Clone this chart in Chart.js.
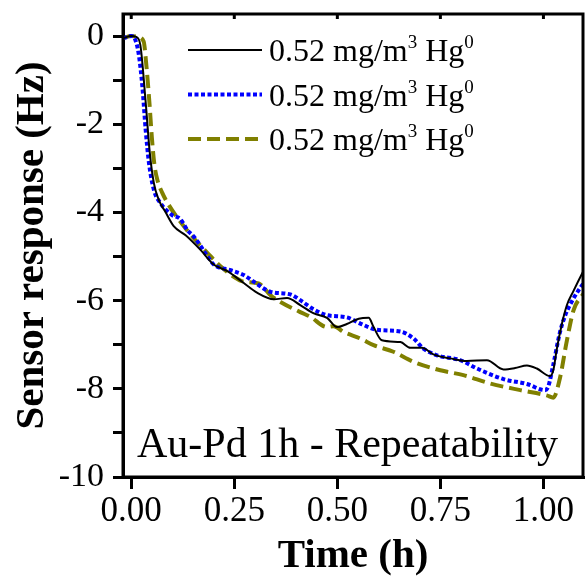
<!DOCTYPE html>
<html>
<head>
<meta charset="utf-8">
<script src="https://cdn.jsdelivr.net/npm/chart.js@4.4.1/dist/chart.umd.min.js"></script>
<style>
  html, body { margin: 0; padding: 0; background: #fff; }
</style>
</head>
<body>
<canvas id="chart" width="585" height="580"></canvas>
<script>
// ---- data ----
const SERIES_LABEL = '0.52 mg/m³ Hg⁰';
const ANNOTATION = 'Au-Pd 1h - Repeatability';

const xTickValues = [0, 0.25, 0.5, 0.75, 1.0];
const yTickValues = [-10, -9, -8, -7, -6, -5, -4, -3, -2, -1, 0];

// run 1 (black, solid)
const timeRun1 = [-0.02, 0.0, 0.012, 0.022, 0.035, 0.045, 0.055, 0.067, 0.083, 0.103, 0.132, 0.168, 0.2,
  0.233, 0.273, 0.305, 0.346, 0.378, 0.41, 0.443, 0.475, 0.499, 0.523, 0.552, 0.576, 0.588, 0.608,
  0.653, 0.677, 0.705, 0.733, 0.774, 0.814, 0.863, 0.903, 0.931, 0.96, 0.984, 1.016, 1.024, 1.032,
  1.045, 1.057, 1.073, 1.097, 1.11];
const respRun1 = [-0.05, 0.0, -0.02, -0.2, -1.5, -2.65, -3.34, -3.72, -3.99, -4.31, -4.52, -4.85, -5.18,
  -5.33, -5.6, -5.82, -5.97, -5.94, -6.1, -6.29, -6.39, -6.6, -6.53, -6.41, -6.39, -6.6, -6.9,
  -6.94, -7.07, -7.07, -7.22, -7.31, -7.37, -7.35, -7.56, -7.53, -7.47, -7.54, -7.71, -7.58, -7.12,
  -6.52, -6.1, -5.78, -5.33, -5.1];

// run 2 (blue, dotted)
const timeRun2 = [-0.02, 0.0, 0.008, 0.018, 0.027, 0.035, 0.043, 0.055, 0.071, 0.099, 0.119, 0.136, 0.152,
  0.184, 0.2, 0.241, 0.273, 0.297, 0.338, 0.386, 0.41, 0.443, 0.475, 0.523, 0.556, 0.596, 0.653,
  0.685, 0.709, 0.742, 0.798, 0.839, 0.903, 0.96, 1.004, 1.012, 1.024, 1.04, 1.053, 1.073, 1.097, 1.11];
const respRun2 = [-0.05, 0.0, -0.05, -0.4, -1.15, -2.13, -2.88, -3.49, -3.79, -4.06, -4.15, -4.4, -4.55,
  -4.98, -5.18, -5.31, -5.42, -5.57, -5.8, -5.86, -5.99, -6.2, -6.33, -6.38, -6.52, -6.66, -6.7,
  -6.86, -7.09, -7.24, -7.35, -7.54, -7.78, -7.89, -8.03, -7.94, -7.45, -6.72, -6.33, -5.95, -5.61, -5.45];

// run 3 (olive, dashed)
const timeRun3 = [-0.02, 0.0, 0.015, 0.03, 0.037, 0.044, 0.05, 0.056, 0.063, 0.075, 0.091, 0.124, 0.156,
  0.188, 0.22, 0.249, 0.273, 0.309, 0.338, 0.362, 0.41, 0.435, 0.475, 0.491, 0.515, 0.556, 0.588,
  0.636, 0.685, 0.75, 0.806, 0.871, 0.944, 1.008, 1.024, 1.04, 1.057, 1.073, 1.097, 1.11];
const respRun3 = [-0.05, 0.0, -0.02, -0.12, -0.7, -1.5, -2.3, -2.9, -3.25, -3.55, -3.83, -4.27, -4.63,
  -4.95, -5.25, -5.46, -5.57, -5.61, -5.88, -6.03, -6.26, -6.37, -6.6, -6.58, -6.71, -6.86, -7.01,
  -7.16, -7.39, -7.58, -7.69, -7.88, -8.03, -8.15, -8.2, -7.76, -6.9, -6.22, -5.85, -5.7];

const SERIF = "'Liberation Serif', 'Times New Roman', serif";

function toPoints(xs, ys) {
  return xs.map((x, i) => ({ x, y: ys[i] }));
}

const runs = [
  { t: timeRun1, r: respRun1, color: '#000000', width: 2, dash: [] },
  { t: timeRun2, r: respRun2, color: '#0000ff', width: 4, dash: [4, 2.5] },
  { t: timeRun3, r: respRun3, color: '#808000', width: 4, dash: [13, 6] },
];

// ---- frame, top ticks, legend, annotation ----
const decorPlugin = {
  id: 'decor',
  afterDraw(chart) {
    const { ctx, chartArea: a, scales } = chart;
    ctx.save();
    ctx.strokeStyle = '#000';
    ctx.lineWidth = 3;
    ctx.strokeRect(a.left, a.top, a.right - a.left, a.bottom - a.top);

    // small inward ticks on the top edge
    xTickValues.forEach(v => {
      const px = scales.x.getPixelForValue(v);
      ctx.beginPath();
      ctx.moveTo(px, a.top);
      ctx.lineTo(px, a.top + 5);
      ctx.stroke();
    });

    // legend
    const rows = [50, 94.5, 139];
    runs.forEach((run, i) => {
      const y = rows[i];
      ctx.beginPath();
      ctx.strokeStyle = run.color;
      ctx.lineWidth = run.width;
      ctx.setLineDash(run.dash);
      ctx.moveTo(188, y);
      ctx.lineTo(262, y);
      ctx.stroke();
      ctx.setLineDash([]);

      ctx.fillStyle = '#000';
      ctx.textBaseline = 'alphabetic';
      ctx.textAlign = 'left';
      let x = 269;
      const base = y + 11;
      const parts = [['0.52 mg/m', 32, 0], ['3', 19, -13], [' Hg', 32, 0], ['0', 19, -13]];
      parts.forEach(([txt, size, dy]) => {
        ctx.font = size + 'px ' + SERIF;
        ctx.fillText(txt, x, base + dy);
        x += ctx.measureText(txt).width;
      });
    });

    // annotation
    ctx.fillStyle = '#000';
    ctx.font = '42px ' + SERIF;
    ctx.textAlign = 'left';
    ctx.textBaseline = 'alphabetic';
    ctx.fillText(ANNOTATION, 137, 457);
    ctx.restore();
  }
};

new Chart(document.getElementById('chart'), {
  type: 'line',
  data: {
    datasets: runs.map(run => ({
      label: SERIES_LABEL,
      data: toPoints(run.t, run.r),
      borderColor: run.color,
      borderWidth: run.width,
      borderDash: run.dash,
      pointRadius: 0,
      fill: false,
      cubicInterpolationMode: 'monotone',
    }))
  },
  options: {
    responsive: false,
    animation: false,
    devicePixelRatio: 1,
    layout: { padding: { top: 14, right: 2, left: 0, bottom: 0 } },
    plugins: { legend: { display: false }, tooltip: { enabled: false } },
    scales: {
      x: {
        type: 'linear',
        min: -0.02,
        max: 1.096,
        afterBuildTicks: s => { s.ticks = xTickValues.map(v => ({ value: v })); },
        afterFit: s => { s.height = 103; s.paddingLeft = 0; s.paddingRight = 0; },
        grid: { drawOnChartArea: false, color: '#000', lineWidth: 3, tickLength: 12 },
        border: { display: true, color: '#000', width: 3 },
        ticks: {
          color: '#000',
          font: { family: SERIF, size: 35 },
          padding: 2,
          maxRotation: 0,
          callback: v => v.toFixed(2)
        },
        title: {
          display: true,
          text: 'Time (h)',
          color: '#000',
          font: { family: SERIF, size: 41, weight: 'bold', lineHeight: 1 },
          padding: { top: 0, bottom: 3 }
        }
      },
      y: {
        type: 'linear',
        min: -10,
        max: 0.5,
        afterBuildTicks: s => { s.ticks = yTickValues.map(v => ({ value: v })); },
        afterFit: s => { s.width = 123; s.paddingTop = 0; s.paddingBottom = 0; },
        grid: { drawOnChartArea: false, color: '#000', lineWidth: 3, tickLength: 10 },
        border: { display: true, color: '#000', width: 3 },
        ticks: {
          color: '#000',
          font: { family: SERIF, size: 34 },
          padding: 9,
          callback: v => (v % 2 === 0 ? String(v) : '')
        },
        title: {
          display: true,
          text: 'Sensor response (Hz)',
          color: '#000',
          font: { family: SERIF, size: 41, weight: 'bold', lineHeight: 1 },
          padding: { top: 12, bottom: 0 }
        }
      }
    }
  },
  plugins: [decorPlugin]
});
</script>
</body>
</html>
